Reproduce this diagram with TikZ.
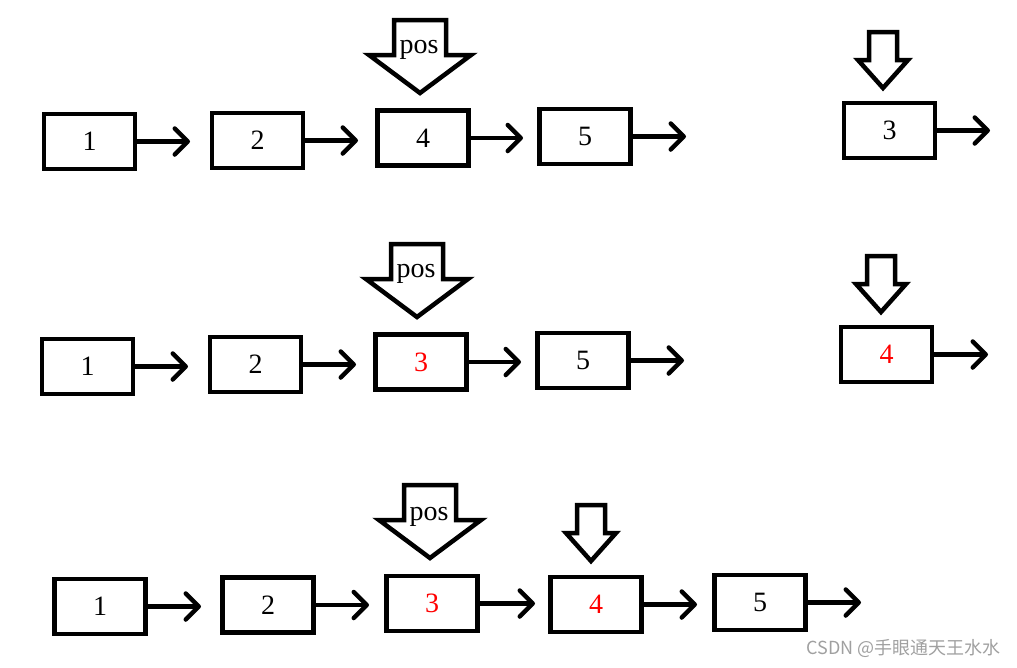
\documentclass[tikz,border=0pt]{standalone}
\usepackage{fontspec}
\setmainfont{Liberation Serif}
\newfontfamily\cjkfont{Noto Sans CJK SC}
\usetikzlibrary{arrows.meta}
\definecolor{wm}{RGB}{160,160,160}
\tikzset{
  box/.style={draw=black, line width=4.5pt, minimum width=91pt, minimum height=55pt,
    inner sep=0pt, font=\fontsize{28}{30}\selectfont},
  redtext/.style={text=red},
  link/.style={line width=4.5pt, -{Straight Barb[length=13pt,width=26pt,line width=4.5pt,round]}},
  blockarrow/.style={draw=black, line width=4.5pt, line join=miter, fill=white},
  poslabel/.style={font=\fontsize{28}{30}\selectfont, anchor=base, inner sep=0pt}
}
\newcommand\bigdown[2]{% cx, top
  \draw[blockarrow] (#1-26,#2) -- (#1+26,#2) -- (#1+26,#2+35) -- (#1+51,#2+35)
     -- (#1,#2+73) -- (#1-51,#2+35) -- (#1-26,#2+35) -- cycle;}
\newcommand\smalldown[2]{%
  \draw[blockarrow] (#1-14,#2) -- (#1+14,#2) -- (#1+14,#2+28) -- (#1+25,#2+28)
     -- (#1,#2+56) -- (#1-25,#2+28) -- (#1-14,#2+28) -- cycle;}
\begin{document}
\begin{tikzpicture}[x=1pt,y=-1pt]
\useasboundingbox (0,0) rectangle (1017,667);
% ---------- row 1
\node[box] (a1) at (89.5,141.5) {1};
\node[box] (a2) at (257.5,140.5) {2};
\node[box] (a4) at (423,138) {4};
\node[box] (a5) at (585,136.5) {5};
\node[box] (a3) at (889.5,130.5) {3};
\coordinate (ae1) at (190,141.5);
\coordinate (ae2) at (358,140.5);
\coordinate (ae4) at (523,138);
\coordinate (ae5) at (686,136.5);
\coordinate (ae3) at (990,130.5);
\draw[link] (a1.east) -- (ae1);
\draw[link] (a2.east) -- (ae2);
\draw[link] (a4.east) -- (ae4);
\draw[link] (a5.east) -- (ae5);
\draw[link] (a3.east) -- (ae3);
\bigdown{420}{20}
\node[poslabel] (p1) at (419,53) {pos};
\smalldown{883}{32}
% ---------- row 2
\node[box] (b1) at (87.5,366.5) {1};
\node[box] (b2) at (255.5,364.5) {2};
\node[box,redtext] (b3) at (421,362) {3};
\node[box] (b5) at (583,360.5) {5};
\node[box,redtext] (b4) at (886.5,354.5) {4};
\coordinate (be1) at (188,366.5);
\coordinate (be2) at (356,364.5);
\coordinate (be3) at (521,362);
\coordinate (be5) at (684,360.5);
\coordinate (be4) at (988,354.5);
\draw[link] (b1.east) -- (be1);
\draw[link] (b2.east) -- (be2);
\draw[link] (b3.east) -- (be3);
\draw[link] (b5.east) -- (be5);
\draw[link] (b4.east) -- (be4);
\bigdown{417}{244}
\node[poslabel] (p2) at (416,277) {pos};
\smalldown{881}{256}
% ---------- row 3
\node[box] (c1) at (100,606.5) {1};
\node[box] (c2) at (268,605) {2};
\node[box,redtext] (c3) at (432,603.5) {3};
\node[box,redtext] (c4) at (596,604.5) {4};
\node[box] (c5) at (760,602.5) {5};
\coordinate (ce1) at (201,606.5);
\coordinate (ce2) at (369,605);
\coordinate (ce3) at (535,603.5);
\coordinate (ce4) at (697,604.5);
\coordinate (ce5) at (861,602.5);
\draw[link] (c1.east) -- (ce1);
\draw[link] (c2.east) -- (ce2);
\draw[link] (c3.east) -- (ce3);
\draw[link] (c4.east) -- (ce4);
\draw[link] (c5.east) -- (ce5);
\bigdown{430}{485}
\node[poslabel] (p3) at (429,520) {pos};
\smalldown{591}{505}
% ---------- watermark
\node[anchor=east, inner sep=0pt, text=wm, font=\cjkfont\fontsize{18}{20}\selectfont] (wmk) at (1001,648) {CSDN @手眼通天王水水};
\end{tikzpicture}
\end{document}
